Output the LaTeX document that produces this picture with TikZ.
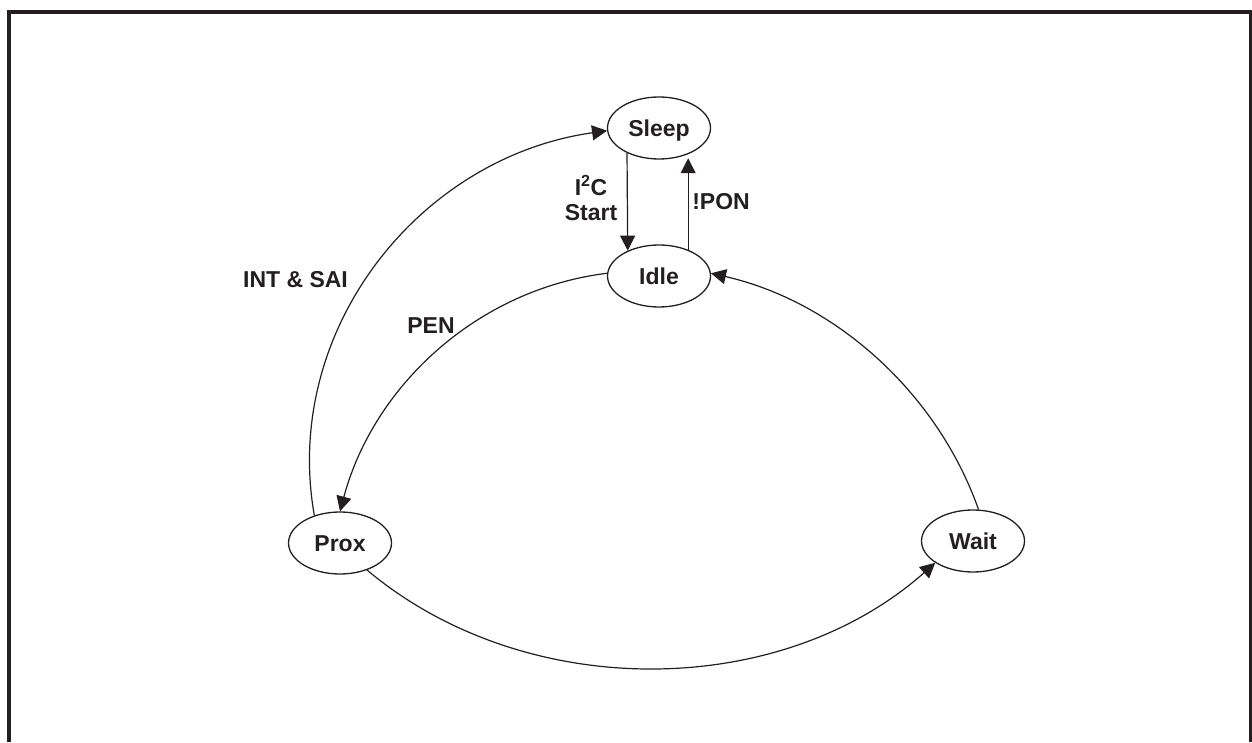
\documentclass[tikz,border=0pt]{standalone}
\usepackage{fontspec}
\setmainfont{Liberation Sans}
\usetikzlibrary{arrows.meta,shapes.geometric}
\definecolor{ink}{HTML}{231F20}
\begin{document}
\begin{tikzpicture}[x=1pt,y=1pt,
  font=\bfseries\fontsize{23}{25}\selectfont,
  state/.style={ellipse,draw=ink,line width=1.3pt,minimum width=103pt,minimum height=62pt,
    inner sep=0pt,text=ink,text height=16.5pt,text depth=0pt},
  lbl/.style={text=ink,inner sep=0pt,align=center},
  arr/.style={draw=ink,line width=1.2pt,-{Triangle[length=15pt,width=15pt]}}]
\useasboundingbox (0,0) rectangle (1252,742);
\draw[ink,line width=3.5pt] (9,0) -- (9,730) -- (1250.5,730) -- (1250.5,0);
\node[state] (sleep) at (659,614) {Sleep};
\node[state] (idle) at (659,466) {Idle};
\node[state] (prox) at (340,199) {Prox};
\node[state] (wait) at (973,201) {Wait};
\draw[arr] (sleep.218.6) -- (idle.141.4);
\draw[arr,shorten >=4pt] (idle.42.9) -- (sleep.-42.9);
\draw[arr] (prox.133) to[out=100,in=188] (sleep.183);
\draw[arr] (idle.177) to[out=187,in=75,looseness=0.93] (prox.90);
\draw[arr] (prox.-45) to[out=-40,in=221.6,looseness=0.93] (wait.210);
\draw[arr] (wait.80) to[out=109.5,in=-12.8,looseness=0.9] (idle.3);
\node[lbl] (i2c) at (591,544) {I\textsuperscript{2}C\\Start};
\node[lbl] (pon) at (721,540.5) {!PON};
\node[lbl] (intsai) at (295.5,462) {INT \& SAI};
\node[lbl] (pen) at (431,416.5) {PEN};
\end{tikzpicture}
\end{document}
